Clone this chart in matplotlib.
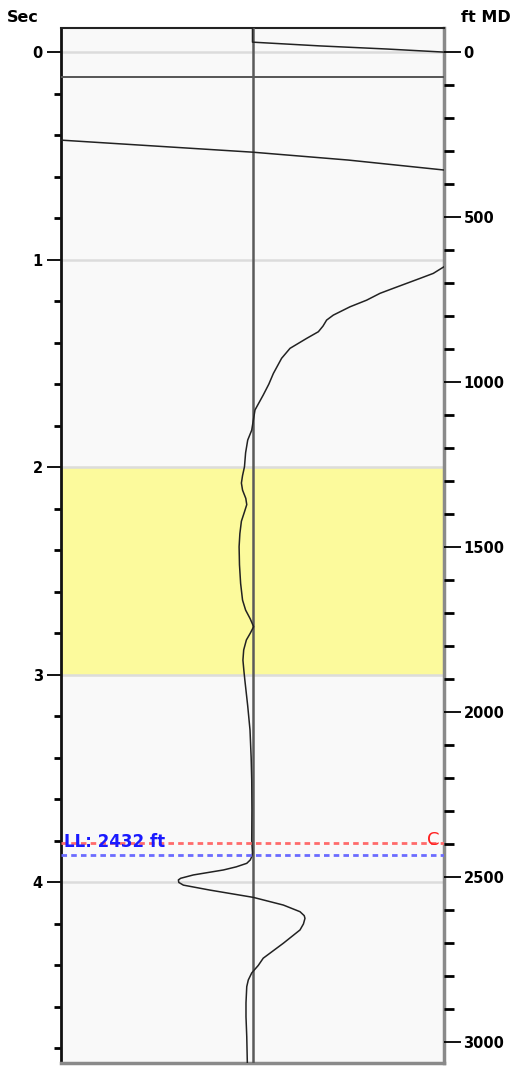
import matplotlib.pyplot as plt
import numpy as np
from matplotlib.ticker import MultipleLocator

# main log trace (time in sec, normalised amplitude)
log_sec = [1.034, 1.066, 1.090, 1.114, 1.138, 1.162, 1.195, 1.227, 1.267, 1.291,
           1.320, 1.347, 1.379, 1.427, 1.475, 1.548, 1.600, 1.652, 1.724, 1.821,
           1.869, 1.930, 1.998, 2.040, 2.076, 2.110, 2.150, 2.180, 2.215, 2.260,
           2.320, 2.383, 2.470, 2.560, 2.640, 2.688, 2.730, 2.768, 2.800, 2.832,
           2.880, 2.929, 2.980, 3.025, 3.150, 3.266, 3.400, 3.507, 3.650, 3.796,
           3.858, 3.876, 3.892, 3.908, 3.925, 3.940, 3.964, 3.980, 3.988, 4.000,
           4.013, 4.037, 4.072, 4.109, 4.141, 4.160, 4.173, 4.200, 4.229, 4.293,
           4.365, 4.400, 4.436, 4.470, 4.502, 4.580, 4.647, 4.743, 4.870]
log_amp = [1.000, 0.944, 0.875, 0.805, 0.735, 0.666, 0.596, 0.509, 0.422, 0.387,
           0.368, 0.344, 0.283, 0.196, 0.152, 0.109, 0.085, 0.056, 0.013, -0.004,
           -0.025, -0.036, -0.042, -0.052, -0.058, -0.052, -0.035, -0.030, -0.042, -0.058,
           -0.066, -0.070, -0.068, -0.062, -0.052, -0.036, -0.012, 0.006, -0.012, -0.032,
           -0.046, -0.050, -0.045, -0.040, -0.025, -0.013, -0.007, -0.004, -0.003, -0.004,
           0.000, -0.004, -0.012, -0.030, -0.085, -0.152, -0.309, -0.375, -0.387, -0.385,
           -0.361, -0.222, 0.004, 0.161, 0.248, 0.270, 0.274, 0.266, 0.248, 0.161,
           0.056, 0.030, -0.004, -0.022, -0.030, -0.034, -0.034, -0.030, -0.027]

# short trace at the top and the sloping trace below it
top_sec = [-0.116, -0.048, -0.030, -0.015, 0.0]
top_amp = [0.0, 0.0, 0.35, 0.70, 1.0]
slope_sec = [0.424, 0.453, 0.482, 0.520, 0.568]
slope_amp = [-1.0, -0.5, 0.0, 0.5, 1.0]

marker_line_sec = 0.119
zone_top, zone_base = 2.0, 3.0
c_sec = 3.81
ll_ft = 2432
sec_lim = (-0.116, 4.87)
ft_lim = (-72.7, 3063.6)

fig = plt.figure(figsize=(5.14, 10.66), dpi=100)
ax = fig.add_axes([0.1187, 0.0028, 0.7451, 0.9709])
ax.set_facecolor('#f9f9f9')

ax.axhspan(zone_top, zone_base, color='#fcfa9c', zorder=1)
for s in [0, 1, 2, 3, 4]:
    ax.axhline(s, color='#dcdcdc', lw=1.8, zorder=2)

ax.axhline(marker_line_sec, color='#555555', lw=1.4, zorder=3)
ax.axvline(0, color='#5a5a5a', lw=1.8, zorder=3)

ax.plot(top_amp, top_sec, color='#222222', lw=1.1, zorder=4)
ax.plot(slope_amp, slope_sec, color='#222222', lw=1.1, zorder=4)
ax.plot(log_amp, log_sec, color='#222222', lw=1.1, zorder=4,
        solid_joinstyle='round')

ax.axhline(c_sec, color='#ff6b6b', lw=2, ls=(0, (2, 1.5)), zorder=5)
ax.text(0.975, c_sec + 0.03, 'C', color='#ff2020', fontsize=13,
        ha='right', va='bottom', zorder=6)

ax.set_xlim(-1, 1)
ax.set_ylim(sec_lim[1], sec_lim[0])
ax.set_xticks([])
ax.yaxis.set_major_locator(MultipleLocator(1))
ax.yaxis.set_minor_locator(MultipleLocator(0.2))
ax.tick_params(axis='y', which='major', length=10, width=1.3, pad=3,
               labelsize=10.5)
ax.tick_params(axis='y', which='minor', length=5, width=2)
for lab in ax.get_yticklabels():
    lab.set_fontweight('bold')
ax.spines['left'].set_linewidth(2)
ax.spines['left'].set_color('#111111')
ax.spines['top'].set_linewidth(1.5)
ax.spines['top'].set_color('#222222')
ax.spines['right'].set_linewidth(2.5)
ax.spines['right'].set_color('#8a8a8a')
ax.spines['bottom'].set_linewidth(2.5)
ax.spines['bottom'].set_color('#8a8a8a')

ax2 = ax.twinx()
ax2.set_ylim(ft_lim[1], ft_lim[0])
ax2.set_xlim(-1, 1)
ax2.yaxis.set_major_locator(MultipleLocator(500))
ax2.yaxis.set_minor_locator(MultipleLocator(100))
ax2.tick_params(axis='y', which='major', length=12, width=1.3, pad=2,
                labelsize=10.5)
ax2.tick_params(axis='y', which='minor', length=7, width=2)
for lab in ax2.get_yticklabels():
    lab.set_fontweight('bold')
for sp in ax2.spines.values():
    sp.set_visible(False)

ax2.axhline(ll_ft, color='#6b6bff', lw=2, ls=(0, (2, 1.5)), zorder=5)
ax2.text(-0.985, ll_ft - 12, 'LL: 2432 ft', color='#1a1aff', fontsize=12,
         fontweight='bold', ha='left', va='bottom', zorder=6)

fig.text(0.014, 0.984, 'Sec', fontsize=11.5, fontweight='bold', va='center')
fig.text(0.897, 0.984, 'ft MD', fontsize=11.5, fontweight='bold', va='center')

fig.savefig('out.png', dpi=100)
